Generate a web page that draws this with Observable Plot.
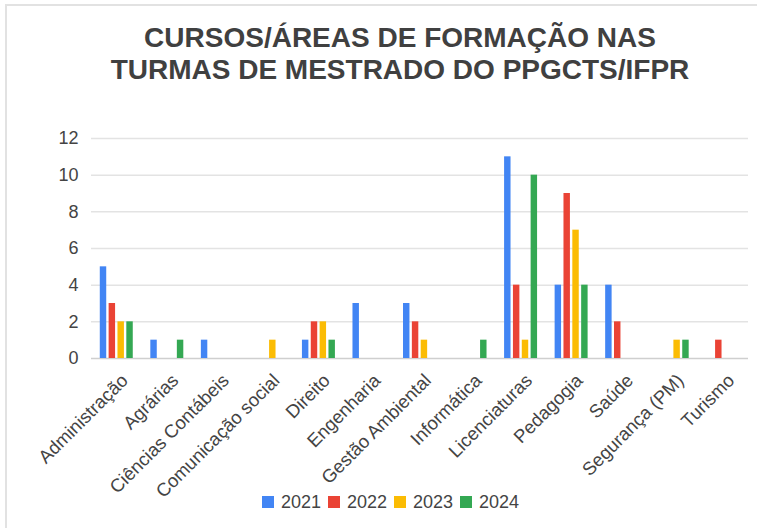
<!DOCTYPE html>
<html>
<head>
<meta charset="utf-8">
<script src="https://cdn.jsdelivr.net/npm/d3@7"></script>
<script src="https://cdn.jsdelivr.net/npm/@observablehq/plot@0.6"></script>
<style>
  html, body { margin: 0; padding: 0; background: #fff; }
  #wrap { position: relative; width: 757px; height: 528px; font-family: "Liberation Sans", Arial, sans-serif; box-sizing: border-box; overflow: hidden; }
  #frame { position: absolute; left: 5px; top: 4px; width: 752px; height: 2px; background: #e2e2e2; pointer-events: none; }
  #frame2 { position: absolute; left: 5px; top: 4px; width: 2px; height: 524px; background: #e2e2e2; pointer-events: none; }
  #title { margin: 0; padding-top: 22px; padding-left: 43px; height: 64px; text-align: center; font-weight: bold; font-size: 28px; line-height: 32px; color: #404040; }
  #legend { position: absolute; top: 492px; left: 250px; width: 281px; height: 20px; display: flex; justify-content: center; align-items: center; font-size: 18px; color: #444; }
  .item { display: flex; align-items: center; margin: 0 3.5px; }
  .sw { width: 12px; height: 12px; margin-right: 7px; }
  svg { display: block; }
</style>
</head>
<body>
<div id="wrap">
  <div id="frame"></div>
  <div id="frame2"></div>
  <div id="title">CURSOS/ÁREAS DE FORMAÇÃO NAS<br>TURMAS DE MESTRADO DO PPGCTS/IFPR</div>
  <div id="chart"></div>
  <div id="legend"></div>
</div>
<script>
const categories = ["Administração", "Agrárias", "Ciências Contábeis", "Comunicação social", "Direito", "Engenharia", "Gestão Ambiental", "Informática", "Licenciaturas", "Pedagogia", "Saúde", "Segurança (PM)", "Turismo"];
const years = ["2021", "2022", "2023", "2024"];
const v2021 = [5, 1, 1, 0, 1, 3, 3, 0, 11, 4, 4, 0, 0];
const v2022 = [3, 0, 0, 0, 2, 0, 2, 0, 4, 9, 2, 0, 1];
const v2023 = [2, 0, 0, 1, 2, 0, 1, 0, 1, 7, 0, 1, 0];
const v2024 = [2, 1, 0, 0, 1, 0, 0, 1, 10, 4, 0, 1, 0];
const yTicks = [0, 2, 4, 6, 8, 10, 12];
const colors = ["#4285F4", "#EA4335", "#FBBC04", "#34A853"];

const series = [v2021, v2022, v2023, v2024];
const data = [];
series.forEach((vals, i) => vals.forEach((v, j) => data.push({cat: categories[j], year: years[i], value: v})));

const W = 757, H = 420;
const mL = 91, mR = 9;
const padIn = 0.3, padOut = 0.15;
const step = (W - mL - mR) / (categories.length - padIn + 2 * padOut);
const band = step * (1 - padIn);
const slot = band / years.length;
const gap = 1.2;

const barMarks = years.map((yr, i) =>
  Plot.barY(data.filter(d => d.year === yr && d.value > 0), {
    x: "cat", y: "value", fill: colors[i],
    insetLeft: i * slot + gap, insetRight: (years.length - 1 - i) * slot + gap
  })
);

const chart = Plot.plot({
  width: W, height: H,
  marginLeft: mL, marginRight: mR, marginTop: 52, marginBottom: H - 272,
  style: {fontFamily: "'Liberation Sans', Arial, sans-serif", fontSize: "18px", color: "#444", background: "transparent"},
  x: {domain: categories, paddingInner: padIn, paddingOuter: padOut, round: false, axis: null},
  y: {domain: [0, 12], axis: null},
  marks: [
    Plot.ruleY(yTicks.filter(t => t > 0), {stroke: "#e3e3e3", strokeWidth: 1.5}),
    Plot.ruleY([0], {stroke: "#cfcfcf", strokeWidth: 1.5}),
    ...barMarks,
    Plot.axisY({ticks: yTicks, tickSize: 0, tickPadding: 13, label: null, fill: "#444", fontSize: 18}),
    Plot.axisX({tickRotate: -45, tickSize: 0, tickPadding: 19, dx: 8, label: null, fill: "#444", fontSize: 18.5})
  ]
});
document.getElementById("chart").appendChild(chart);

const leg = document.getElementById("legend");
years.forEach((yr, i) => {
  const it = document.createElement("div");
  it.className = "item";
  it.innerHTML = `<div class="sw" style="background:${colors[i]}"></div><span>${yr}</span>`;
  leg.appendChild(it);
});
</script>
</body>
</html>
